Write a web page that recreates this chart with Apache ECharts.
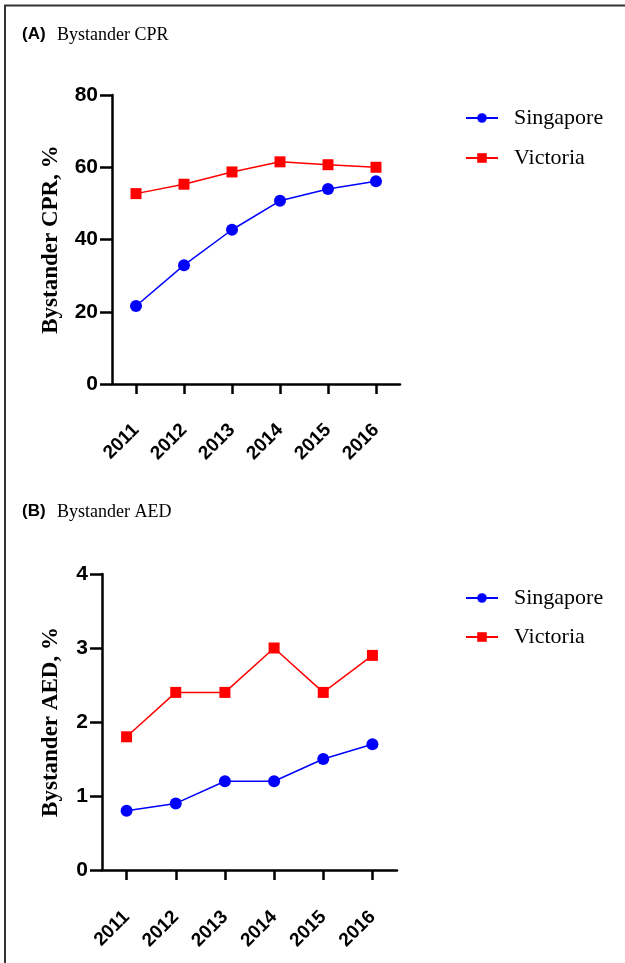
<!DOCTYPE html>
<html>
<head>
<meta charset="utf-8">
<style>
html,body{margin:0;padding:0;background:#fff;}
#chart{width:625px;height:963px;}
</style>
<script src="https://cdn.jsdelivr.net/npm/echarts@6/dist/echarts.min.js"></script>
</head>
<body>
<div id="chart"></div>
<script>
var years = ['2011','2012','2013','2014','2015','2016'];
var cprSingapore = [21.6, 32.9, 42.7, 50.7, 54.0, 56.1];
var cprVictoria  = [52.7, 55.3, 58.7, 61.5, 60.7, 60.0];
var aedSingapore = [0.8, 0.9, 1.2, 1.2, 1.5, 1.7];
var aedVictoria  = [1.8, 2.4, 2.4, 3.0, 2.4, 2.9];
var seriesNames = ['Singapore', 'Victoria'];

var chart = echarts.init(document.getElementById('chart'), null, {renderer:'canvas'});
var BLUE = '#0000ff', RED = '#ff0000';
var sans = 'Liberation Sans', serif = 'Liberation Serif';

function xAxis(idx, margin) {
  return {
    type:'category', gridIndex: idx, data: years, boundaryGap: true,
    axisLine:{show:true, lineStyle:{color:'#000', width:2.5}},
    axisTick:{show:true, alignWithLabel:true, length:10, inside:false, lineStyle:{color:'#000', width:2.5}},
    axisLabel:{rotate:45, margin: margin, color:'#000', fontFamily:sans, fontWeight:'bold', fontSize:19, interval:0},
    splitLine:{show:false}
  };
}
function yAxis(idx, max, interval, name, gap) {
  return {
    type:'value', gridIndex: idx, min:0, max:max, interval:interval,
    name: name, nameLocation:'middle', nameGap: gap,
    nameTextStyle:{fontFamily:serif, fontWeight:'bold', fontSize:23, color:'#000'},
    axisLine:{show:true, lineStyle:{color:'#000', width:2.5}},
    axisTick:{show:true, length:12, lineStyle:{color:'#000', width:2.5}},
    axisLabel:{color:'#000', fontFamily:sans, fontWeight:'bold', fontSize:21, margin:14},
    splitLine:{show:false}
  };
}
function line(name, data, idx, color, symbol) {
  return {
    name: name, type:'line', xAxisIndex: idx, yAxisIndex: idx, data: data,
    symbol: symbol, symbolSize: symbol === 'rect' ? 11 : 12,
    lineStyle:{color: color, width:1.5},
    itemStyle:{color: color},
    animation:false
  };
}
function legend(top, gap) {
  return {
    orient:'vertical', left: 460, top: top, itemGap: gap, itemWidth: 32, itemHeight: 12,
    data: seriesNames,
    textStyle:{fontFamily:serif, fontSize:22, color:'#000', padding:[0,0,0,11]}
  };
}

chart.setOption({
  backgroundColor:'#fff',
  animation:false,
  grid:[
    {left:112, top:95, width:288, height:289},
    {left:102, top:574, width:295, height:296}
  ],
  xAxis:[xAxis(0, 43), xAxis(1, 44)],
  yAxis:[yAxis(0, 80, 20, 'Bystander CPR, %', 49), yAxis(1, 4, 1, 'Bystander AED, %', 39)],
  legend:[legend(102, 18), legend(582, 17)],
  series:[
    line(seriesNames[0], cprSingapore, 0, BLUE, 'circle'),
    line(seriesNames[1], cprVictoria, 0, RED, 'rect'),
    line(seriesNames[0], aedSingapore, 1, BLUE, 'circle'),
    line(seriesNames[1], aedVictoria, 1, RED, 'rect')
  ],
  graphic:[
    {type:'line', shape:{x1:4, y1:5.5, x2:625, y2:5.5}, style:{stroke:'#333', lineWidth:2}},
    {type:'line', shape:{x1:5, y1:5, x2:5, y2:963}, style:{stroke:'#333', lineWidth:2}},
    {type:'text', left:22, top:26, style:{text:'(A)', font:'bold 17px "Liberation Sans"', fill:'#000'}},
    {type:'text', left:57, top:26, style:{text:'Bystander CPR', font:'18px "Liberation Serif"', fill:'#000'}},
    {type:'text', left:22, top:503, style:{text:'(B)', font:'bold 17px "Liberation Sans"', fill:'#000'}},
    {type:'text', left:57, top:503, style:{text:'Bystander AED', font:'18px "Liberation Serif"', fill:'#000'}}
  ]
});
</script>
</body>
</html>
